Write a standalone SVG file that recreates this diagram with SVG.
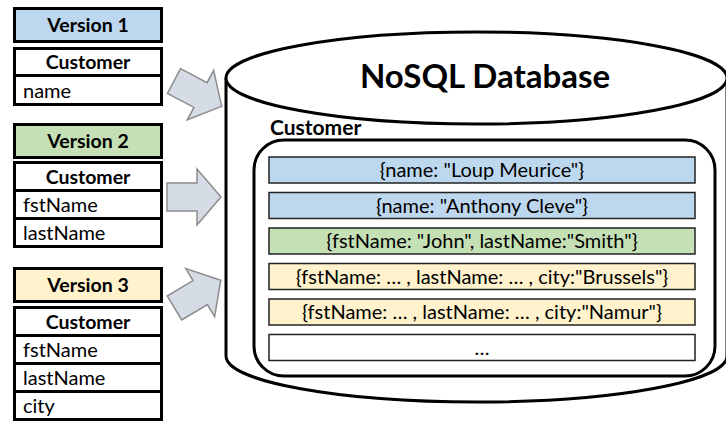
<svg xmlns="http://www.w3.org/2000/svg" width="726" height="422" viewBox="0 0 726 422">
<style>
  text { font-family: Lato, "Open Sans", "Liberation Sans", sans-serif; fill: #000; }
  .hdr { font-weight: bold; font-size: 19.5px; text-anchor: middle; }
  .attr { font-size: 20px; }
  .box { stroke: #000; stroke-width: 3; }
  .rec { stroke: #222; stroke-width: 1.5; }
  .rtxt { font-size: 20px; text-anchor: middle; }
  .arrow { fill: #d6dce5; stroke: #8c8c8c; stroke-width: 1.5; stroke-linejoin: miter; }
  .blue { fill: #bdd7ee; }
  .green { fill: #c5e0b4; }
  .yellow { fill: #fff2cc; }
  .white { fill: #fff; }
</style>
<defs>
  <path id="blockArrow" d="M0,-14 L30,-14 L30,-28 L54,0 L30,28 L30,14 L0,14 Z"/>
</defs>
<rect width="726" height="422" fill="#fff"/>

<g id="version1">
  <rect class="box blue" x="14.5" y="8.5" width="147" height="33"/>
  <text class="hdr" x="88" y="32">Version 1</text>
  <rect class="box white" x="14.5" y="48.5" width="147" height="27"/>
  <text class="hdr" x="88" y="69">Customer</text>
  <rect class="box white" x="14.5" y="75.5" width="147" height="29"/>
  <text class="attr" x="23" y="98">name</text>
</g>

<g id="version2">
  <rect class="box green" x="14.5" y="124.5" width="147" height="33"/>
  <text class="hdr" x="88" y="148">Version 2</text>
  <rect class="box white" x="14.5" y="162.5" width="147" height="28"/>
  <text class="hdr" x="88" y="184">Customer</text>
  <rect class="box white" x="14.5" y="190.5" width="147" height="28"/>
  <text class="attr" x="23" y="212">fstName</text>
  <rect class="box white" x="14.5" y="218.5" width="147" height="28"/>
  <text class="attr" x="23" y="240">lastName</text>
</g>

<g id="version3">
  <rect class="box yellow" x="14.5" y="268.5" width="147" height="33"/>
  <text class="hdr" x="88" y="292">Version 3</text>
  <rect class="box white" x="14.5" y="307.5" width="147" height="28"/>
  <text class="hdr" x="88" y="329">Customer</text>
  <rect class="box white" x="14.5" y="335.5" width="147" height="28"/>
  <text class="attr" x="23" y="357">fstName</text>
  <rect class="box white" x="14.5" y="363.5" width="147" height="28"/>
  <text class="attr" x="23" y="385">lastName</text>
  <rect class="box white" x="14.5" y="391.5" width="147" height="28"/>
  <text class="attr" x="23" y="413">city</text>
</g>

<g id="database">
  <path d="M226,78 L226,356 A250.5,46 0 0 0 727,356 L727,78" fill="#fff" stroke="#000" stroke-width="3"/>
  <ellipse cx="476.5" cy="78" rx="250.5" ry="46" fill="#fff" stroke="#000" stroke-width="3"/>
  <text x="485" y="88" font-size="33" font-weight="bold" text-anchor="middle">NoSQL Database</text>
</g>

<g id="collection">
  <text x="270" y="135" font-size="21" font-weight="bold">Customer</text>
  <rect x="254" y="140" width="461" height="236" rx="30" ry="30" fill="#fff" stroke="#000" stroke-width="3"/>
</g>

<g id="record1">
  <rect class="rec blue" x="269" y="157" width="426" height="26"/>
  <text class="rtxt" x="482" y="177">{name: "Loup Meurice"}</text>
</g>
<g id="record2">
  <rect class="rec blue" x="269" y="192.5" width="426" height="26"/>
  <text class="rtxt" x="482" y="212.5">{name: "Anthony Cleve"}</text>
</g>
<g id="record3">
  <rect class="rec green" x="269" y="228" width="426" height="26"/>
  <text class="rtxt" x="482" y="248">{fstName: "John", lastName:"Smith"}</text>
</g>
<g id="record4">
  <rect class="rec yellow" x="269" y="263.5" width="426" height="26"/>
  <text class="rtxt" x="482" y="283.5">{fstName: … , lastName: … , city:"Brussels"}</text>
</g>
<g id="record5">
  <rect class="rec yellow" x="269" y="299" width="426" height="26"/>
  <text class="rtxt" x="482" y="319">{fstName: … , lastName: … , city:"Namur"}</text>
</g>
<g id="record6">
  <rect class="rec white" x="269" y="334.5" width="426" height="26"/>
  <text class="rtxt" x="482" y="355">…</text>
</g>

<g id="connectors">
  <use href="#blockArrow" class="arrow" transform="translate(174,81) rotate(28)"/>
  <use href="#blockArrow" class="arrow" transform="translate(167,197)"/>
  <use href="#blockArrow" class="arrow" transform="translate(174.5,308) rotate(-31)"/>
</g>
</svg>
